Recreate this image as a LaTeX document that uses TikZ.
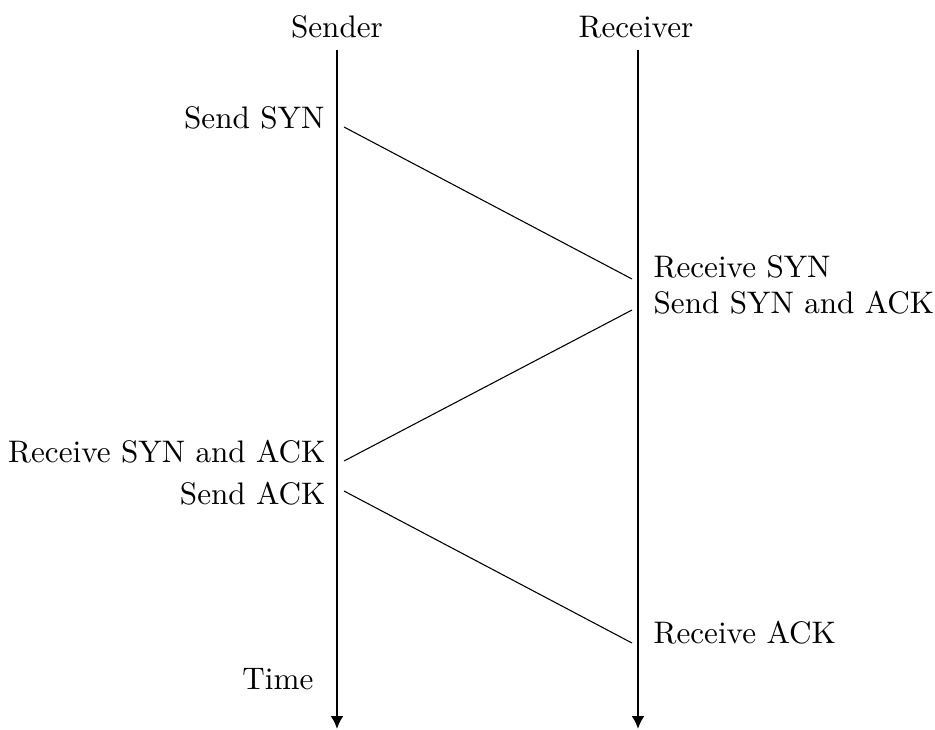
\documentclass[tikz,border=0pt]{standalone}
\usetikzlibrary{arrows.meta}
\begin{document}
\begin{tikzpicture}[x=0.3257pt,y=-0.3257pt,
  lbl/.style={inner sep=0pt,font=\fontsize{10.15}{12}\selectfont},
  timeline/.style={line width=0.8pt,-{Latex[length=4.2pt,width=4.2pt]}},
  msg/.style={line width=0.35pt}]
\useasboundingbox (0,0) rectangle (935,729);
% timelines
\coordinate (stop) at (337,50);
\coordinate (sbot) at (337,729);
\coordinate (rtop) at (638,50);
\coordinate (rbot) at (638,729);
\draw[timeline] (stop) -- (sbot);
\draw[timeline] (rtop) -- (rbot);
% headers
\node[lbl,anchor=base] (sender) at (337,37) {Sender};
\node[lbl,anchor=base] (receiver) at (636,37) {Receiver};
% labels
\node[lbl,anchor=base east] (l1) at (325,128) {Send SYN};
\node[lbl,anchor=base west] (r1) at (653,277) {Receive SYN};
\node[lbl,anchor=base west] (r2) at (653,313) {Send SYN and ACK};
\node[lbl,anchor=base east] (l2) at (326,462) {Receive SYN and ACK};
\node[lbl,anchor=base east] (l3) at (326,504) {Send ACK};
\node[lbl,anchor=base west] (r3) at (653,643) {Receive ACK};
\node[lbl,anchor=base east] (time) at (314,689) {Time};
% message endpoints
\coordinate (a1) at (344,127);
\coordinate (b1) at (632,279);
\coordinate (b2) at (632,310);
\coordinate (a2) at (344,461);
\coordinate (a3) at (344,491);
\coordinate (b3) at (632,643);
\draw[msg] (a1) -- (b1);
\draw[msg] (b2) -- (a2);
\draw[msg] (a3) -- (b3);
\end{tikzpicture}
\end{document}
